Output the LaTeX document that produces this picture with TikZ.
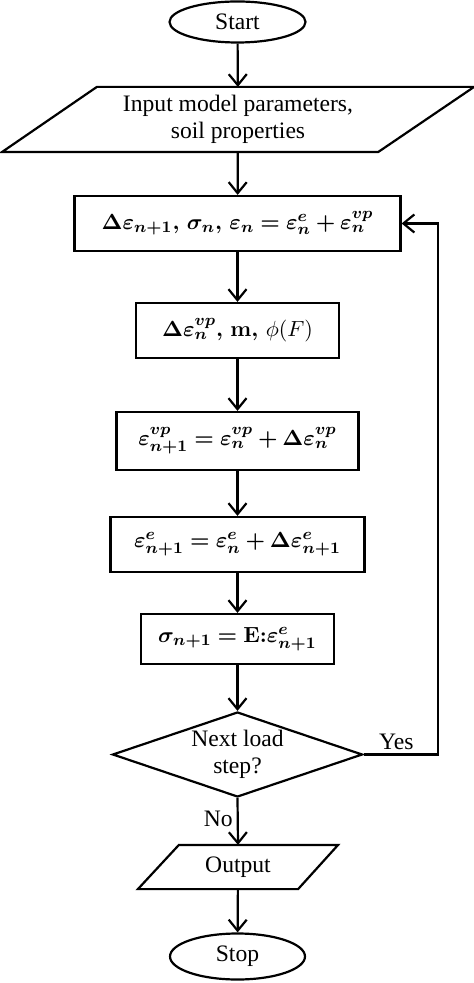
\documentclass[tikz,border=0pt]{standalone}
\usepackage{amsmath}
\usepackage{bm}
\usepackage{fontspec}
\setmainfont{Liberation Serif}
\usetikzlibrary{arrows.meta,shapes.geometric}
\begin{document}
\begin{tikzpicture}[x=0.5pt,y=-0.5pt,
  line width=1.1pt,
  every node/.style={font=\fontsize{11.8}{13.8}\selectfont},
  arr/.style={-{Straight Barb[length=5.5pt,width=9pt,line width=1.1pt]}},
  term/.style={ellipse,draw,inner sep=0pt},
  stepbox/.style={rectangle,draw,inner sep=0pt,font=\fontsize{11.2}{13}\selectfont},
  iobox/.style={rectangle,inner sep=0pt,align=center},
  decision/.style={diamond,draw,inner sep=0pt,aspect=2.9,align=center}]
\useasboundingbox (0,0) rectangle (474,983);
\node[term,minimum width=68pt,minimum height=20.5pt] (start) at (237.5,22) {Start};
\node[iobox,minimum width=235pt,minimum height=31.5pt] (input) at (238,119.5) {Input model parameters,\\soil properties};
\draw ([xshift=47.5pt]input.north west) -- (input.north east) -- ([xshift=-48pt]input.south east) -- (input.south west) -- cycle;
\node[stepbox,minimum width=163pt,minimum height=27.5pt] (b1) at (237.5,223.5)
  {$\bm{\Delta\varepsilon_{n+1},\,\sigma_n,\,\varepsilon_n=\varepsilon_n^{e}+\varepsilon_n^{vp}}$};
\node[stepbox,minimum width=101.5pt,minimum height=27.5pt] (b2) at (237.5,330.5)
  {$\bm{\Delta\varepsilon_n^{vp},\,\mathbf{m},}\,\phi(F)$};
\node[stepbox,minimum width=121pt,minimum height=29pt] (b3) at (237.5,441)
  {$\bm{\varepsilon_{n+1}^{vp}=\varepsilon_n^{vp}+\Delta\varepsilon_n^{vp}}$};
\node[stepbox,minimum width=127pt,minimum height=27.5pt] (b4) at (237.5,544.5)
  {$\bm{\varepsilon_{n+1}^{e}=\varepsilon_n^{e}+\Delta\varepsilon_{n+1}^{e}}$};
\node[stepbox,minimum width=96.5pt,minimum height=25pt] (b5) at (237.5,639)
  {$\bm{\sigma_{n+1}=\mathbf{E}{:}\varepsilon_{n+1}^{e}}$};
\node[decision,minimum width=125pt,minimum height=42.5pt] (dec) at (237.5,754.5) {Next load\\step?};
\node[iobox,minimum width=99pt,minimum height=21pt] (out) at (238,867) {Output};
\draw ([xshift=20.5pt]out.north west) -- (out.north east) -- ([xshift=-20pt]out.south east) -- (out.south west) -- cycle;
\node[term,minimum width=67.5pt,minimum height=23pt] (stop) at (237.5,956.5) {Stop};
\coordinate (fb) at (438,223.5);
\draw[arr] (start) -- (input);
\draw[arr] (input) -- (b1);
\draw[arr] (b1) -- (b2);
\draw[arr] (b2) -- (b3);
\draw[arr] (b3) -- (b4);
\draw[arr] (b4) -- (b5);
\draw[arr] (b5) -- (dec);
\draw[arr] (dec.south) -- node[left,pos=0.45,inner sep=2pt] (no) {No} (out.north);
\draw[arr] (out) -- (stop);
\draw[arr] (dec.east) -| node[pos=0.22,above,inner sep=2pt] (yes) {Yes} (fb) -- (b1.east);
\end{tikzpicture}
\end{document}
